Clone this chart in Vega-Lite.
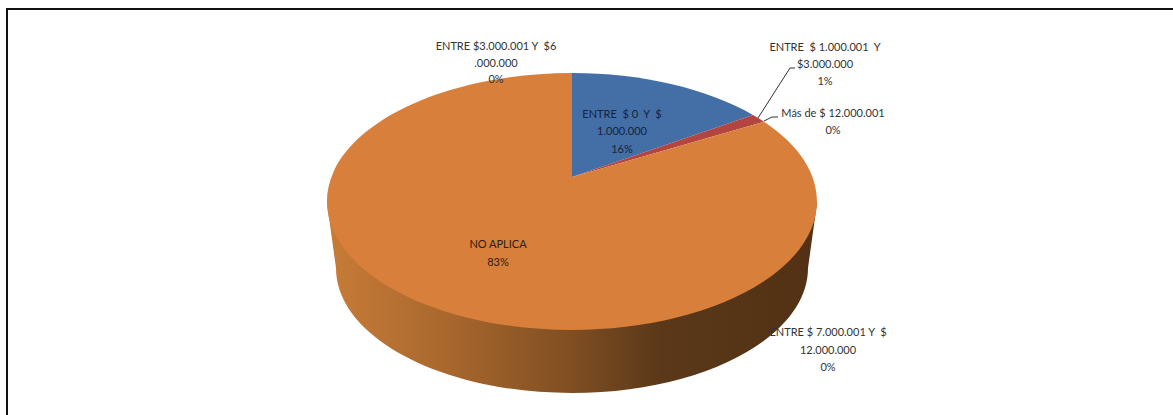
{
  "$schema": "https://vega.github.io/schema/vega-lite/v6.json",
  "width": 1173,
  "height": 415,
  "autosize": {"type": "none"},
  "padding": 0,
  "background": "white",
  "config": {"view": {"stroke": null}},
  "datasets": {
    "rangos": [
      {"rango": "ENTRE $ 0 Y $ 1.000.000", "pct": 16, "etiqueta": "ENTRE\u00a0 $ 0\u00a0 Y\u00a0 $\n1.000.000\n16%"},
      {"rango": "ENTRE $ 1.000.001 Y $3.000.000", "pct": 1, "etiqueta": "ENTRE\u00a0 $ 1.000.001\u00a0 Y\n$3.000.000\n1%"},
      {"rango": "ENTRE $3.000.001 Y $6.000.000", "pct": 0, "etiqueta": "ENTRE $3.000.001 Y\u00a0 $6\n.000.000\n0%"},
      {"rango": "ENTRE $ 7.000.001 Y $ 12.000.000", "pct": 0, "etiqueta": "ENTRE $ 7.000.001 Y\u00a0 $\n12.000.000\n0%"},
      {"rango": "Más de $ 12.000.001", "pct": 0, "etiqueta": "Más de $ 12.000.001\n0%"},
      {"rango": "NO APLICA", "pct": 83, "etiqueta": "NO APLICA\n83%"}
    ]
  },
  "layer": [
    {
      "data": {"values": [{"elemento": "marco"}]},
      "mark": {"type": "point", "filled": false, "size": 4, "opacity": 1, "stroke": "#111111", "strokeWidth": 2,
        "shape": "M-579.5 207.5L-579.5 -198.5L586.5 -198.5"}
    },
    {
      "data": {"values": [{"elemento": "lateral"}]},
      "mark": {"type": "point", "filled": true, "size": 4, "opacity": 1,
        "shape": "M-259.5 -4.5L-250.5 60.5A236 125 0 0 0 221.5 60.5L230.5 -4.5Z",
        "fill": {"gradient": "linear", "x1": 0, "y1": 0, "x2": 1, "y2": 0, "stops": [
          {"offset": 0, "color": "#c87c38"},
          {"offset": 0.25, "color": "#a8672d"},
          {"offset": 0.5, "color": "#7f4e22"},
          {"offset": 0.68, "color": "#5a3819"},
          {"offset": 1, "color": "#523114"}
        ]}}
    },
    {
      "data": {"name": "rangos"},
      "transform": [{"filter": "datum.pct > 0"}],
      "mark": {"type": "point", "filled": true, "size": 4, "opacity": 1},
      "encoding": {
        "shape": {"field": "rango", "type": "nominal", "legend": null, "scale": {
          "domain": ["ENTRE $ 0 Y $ 1.000.000", "ENTRE $ 1.000.001 Y $3.000.000", "NO APLICA"],
          "range": [
            "M-14.5 -30.5L-14.5 -134.5A245 128.5 0 0 1 166.5 -92.5Z",
            "M-14.5 -30.5L166.5 -92.5A245 128.5 0 0 1 177.5 -85.8Z",
            "M-14.5 -30.5L177.5 -85.8A245 128.5 0 1 1 -14.5 -134.5Z"
          ]}},
        "fill": {"field": "rango", "type": "nominal", "legend": null, "scale": {
          "domain": ["ENTRE $ 0 Y $ 1.000.000", "ENTRE $ 1.000.001 Y $3.000.000", "NO APLICA"],
          "range": ["#436ea6", "#b4443f", "#d77f3b"]}}
      }
    },
    {
      "data": {"name": "rangos"},
      "transform": [{"filter": "datum.rango === 'ENTRE $ 1.000.001 Y $3.000.000'"}],
      "mark": {"type": "point", "filled": false, "size": 4, "opacity": 1, "stroke": "#333333", "strokeWidth": 1,
        "shape": "M171.5 -89.5L203.5 -139.5L208.5 -139.5"}
    },
    {
      "data": {"name": "rangos"},
      "transform": [{"filter": "datum.rango === 'Más de $ 12.000.001'"}],
      "mark": {"type": "point", "filled": false, "size": 4, "opacity": 1, "stroke": "#333333", "strokeWidth": 1,
        "shape": "M177.5 -86.5L185.5 -90.5L191.5 -90.5"}
    },
    {
      "data": {"name": "rangos"},
      "transform": [{"filter": "datum.rango === 'ENTRE $3.000.001 Y $6.000.000'"}],
      "mark": {"type": "text", "font": "Lato", "fontSize": 11, "lineHeight": 16.5, "lineBreak": "\n", "color": "#333333", "align": "center", "baseline": "middle", "dx": -90.5, "dy": -160.5},
      "encoding": {"text": {"field": "etiqueta", "type": "nominal"}}
    },
    {
      "data": {"name": "rangos"},
      "transform": [{"filter": "datum.rango === 'ENTRE $ 1.000.001 Y $3.000.000'"}],
      "mark": {"type": "text", "font": "Lato", "fontSize": 11, "lineHeight": 17, "lineBreak": "\n", "color": "#333333", "align": "center", "baseline": "middle", "dx": 238.5, "dy": -159.5},
      "encoding": {"text": {"field": "etiqueta", "type": "nominal"}}
    },
    {
      "data": {"name": "rangos"},
      "transform": [{"filter": "datum.rango === 'Más de $ 12.000.001'"}],
      "mark": {"type": "text", "font": "Lato", "fontSize": 11, "lineHeight": 17, "lineBreak": "\n", "color": "#333333", "align": "center", "baseline": "middle", "dx": 246.5, "dy": -93.5},
      "encoding": {"text": {"field": "etiqueta", "type": "nominal"}}
    },
    {
      "data": {"name": "rangos"},
      "transform": [{"filter": "datum.rango === 'ENTRE $ 0 Y $ 1.000.000'"}],
      "mark": {"type": "text", "font": "Lato", "fontSize": 11, "lineHeight": 17.5, "lineBreak": "\n", "color": "#17233a", "align": "center", "baseline": "middle", "dx": 35.5, "dy": -93},
      "encoding": {"text": {"field": "etiqueta", "type": "nominal"}}
    },
    {
      "data": {"name": "rangos"},
      "transform": [{"filter": "datum.rango === 'NO APLICA'"}],
      "mark": {"type": "text", "font": "Lato", "fontSize": 11, "lineHeight": 18, "lineBreak": "\n", "color": "#2e2012", "align": "center", "baseline": "middle", "dx": -88.5, "dy": 37.5},
      "encoding": {"text": {"field": "etiqueta", "type": "nominal"}}
    },
    {
      "data": {"name": "rangos"},
      "transform": [{"filter": "datum.rango === 'ENTRE $ 7.000.001 Y $ 12.000.000'"}],
      "mark": {"type": "text", "font": "Lato", "fontSize": 11, "lineHeight": 17.5, "lineBreak": "\n", "color": "#333333", "align": "center", "baseline": "middle", "dx": 241.5, "dy": 125.5},
      "encoding": {"text": {"field": "etiqueta", "type": "nominal"}}
    }
  ]
}
